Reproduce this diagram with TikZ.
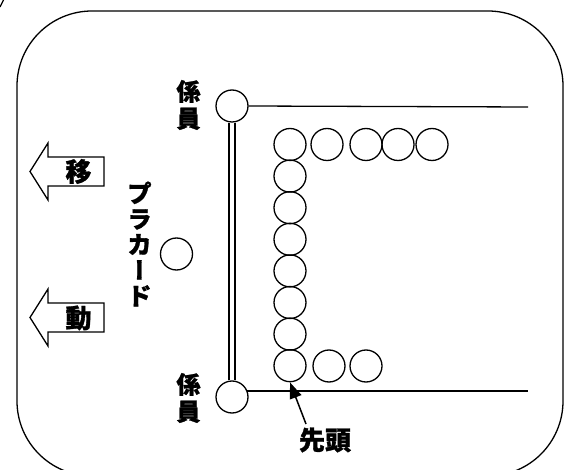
\documentclass[tikz,border=0pt]{standalone}
\usepackage{fontspec}
\newfontfamily\jp{Noto Sans CJK JP}[BoldFeatures={FakeBold=1.2}]
\newfontfamily\jpv{Noto Sans CJK JP}[RawFeature=+vert, BoldFeatures={FakeBold=1.2}]
\usetikzlibrary{arrows.meta}
\tikzset{
  person/.style={circle, draw, line width=1.3pt, minimum size=32pt, inner sep=0pt},
  lbl/.style={font=\jp\bfseries\fontsize{24}{27}\selectfont, align=center, inner sep=0pt},
  vlbl/.style={font=\jp\bfseries\fontsize{24}{25.6}\selectfont, align=center, inner sep=0pt},
  biglbl/.style={font=\jp\bfseries\fontsize{26}{26}\selectfont, inner sep=0pt},
  blockarrow/.style={draw, line width=1.3pt, fill=white, line join=miter},
  ln/.style={line width=1.3pt}
}
\begin{document}
\begin{tikzpicture}[x=1pt,y=-1pt]
\useasboundingbox (0,0) rectangle (573,470);
% frame
\draw[ln] (17,11) [rounded corners=75pt] rectangle (563,476);
\draw[ln] (0,7) -- (3.5,0);
% guards
\node[person] (g1) at (232,106) {};
\node[person] (g2) at (232,397) {};
\coordinate (e1) at (528,107);
\coordinate (e2) at (528,391);
\draw[ln] (g1.east) -- (e1);
\draw[ln] (246.8,391) -- (e2);
\draw[line width=1.3pt, double, double distance=4.6pt] (g1.south) -- (g2.north);
\node[lbl] (k1) at (188.5,105) {係\\員};
\node[lbl] (k2) at (188.5,398) {係\\員};
% placard
\node[person] (p) at (176.5,254) {};
\node[vlbl] (pl) at (139.5,244) {プ\\ラ\\カ\\{\jpv\bfseries ー}\\ド};
% crowd column
\foreach \i in {0,...,7} {
  \node[person] (c\i) at (290,{144.5+31.6*\i}) {};
}
\node[person] (t1) at (327,144.5) {};
\node[person] (t2) at (366,144.5) {};
\node[person] (t3) at (398,144.5) {};
\node[person] (t4) at (432,144.5) {};
\node[person] (b1) at (329,366) {};
\node[person] (b2) at (366,366) {};
% head
\node[biglbl] (head) at (325,440) {先頭};
\coordinate (tail) at (306,424);
\draw[line width=1.5pt, -{Triangle[length=16pt,width=12pt]}] (tail) -- (c7.south);
% block arrows
\draw[blockarrow] (104,157) -- (48,157) -- (48,143) -- (30,171.5) -- (48,200) -- (48,186) -- (104,186) -- cycle;
\node[biglbl] (m1) at (78.5,171.5) {移};
\draw[blockarrow] (104,303) -- (48,303) -- (48,289) -- (30,317.5) -- (48,346) -- (48,332) -- (104,332) -- cycle;
\node[biglbl] (m2) at (78.5,318) {動};
\end{tikzpicture}
\end{document}
